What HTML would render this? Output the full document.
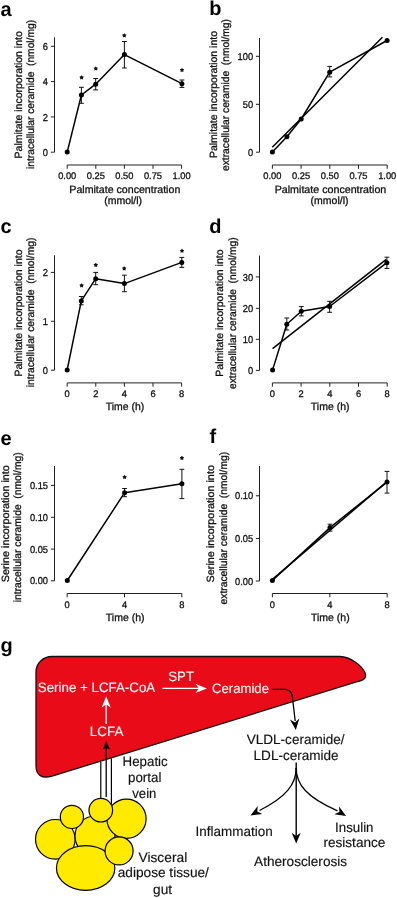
<!DOCTYPE html>
<html><head><meta charset="utf-8"><style>
html,body{margin:0;padding:0;background:#fff;width:397px;height:898px;overflow:hidden}
svg{display:block;will-change:transform;filter:blur(0.3px)}
text{font-family:"Liberation Sans", sans-serif;fill:#111;stroke:#111;stroke-width:0.3px;text-rendering:geometricPrecision}
.gw{stroke:#fff;stroke-width:0.1px}
.tk{font-size:10.0px}
.tkx{font-size:9.6px}
.ti{font-size:10.5px}
.st{font-size:10px}
.pl{font-size:20px;font-weight:bold;fill:#000;stroke:none}
.gw{font-size:13.6px;fill:#fff}
.gb{font-size:13.6px;fill:#111;stroke-width:0.15px}
.ax{stroke:#222;stroke-width:1.0;fill:none}
.dl{stroke:#000;stroke-width:1.5;fill:none;stroke-linejoin:round}
.eb{stroke:#111;stroke-width:1;fill:none}
.dt{fill:#000}
</style></head><body>
<svg width="397" height="898" viewBox="0 0 397 898">
<text x="0.4" y="15.5" class="pl">a</text>
<line x1="54.5" y1="37.3" x2="54.5" y2="152.2" class="ax"/>
<line x1="50.9" y1="152.2" x2="54.5" y2="152.2" class="ax"/>
<text x="48" y="155.8" class="tk" text-anchor="end" textLength="5.17" lengthAdjust="spacingAndGlyphs">0</text>
<line x1="50.9" y1="116.9" x2="54.5" y2="116.9" class="ax"/>
<text x="48" y="120.5" class="tk" text-anchor="end" textLength="5.17" lengthAdjust="spacingAndGlyphs">2</text>
<line x1="50.9" y1="81.6" x2="54.5" y2="81.6" class="ax"/>
<text x="48" y="85.2" class="tk" text-anchor="end" textLength="5.17" lengthAdjust="spacingAndGlyphs">4</text>
<line x1="50.9" y1="46.3" x2="54.5" y2="46.3" class="ax"/>
<text x="48" y="49.9" class="tk" text-anchor="end" textLength="5.17" lengthAdjust="spacingAndGlyphs">6</text>
<line x1="67.2" y1="165" x2="181.6" y2="165" class="ax"/>
<line x1="67.2" y1="165" x2="67.2" y2="168.8" class="ax"/>
<text x="67.2" y="179.3" class="tkx" text-anchor="middle" textLength="18.12" lengthAdjust="spacingAndGlyphs">0.00</text>
<line x1="95.8" y1="165" x2="95.8" y2="168.8" class="ax"/>
<text x="95.8" y="179.3" class="tkx" text-anchor="middle" textLength="18.12" lengthAdjust="spacingAndGlyphs">0.25</text>
<line x1="124.4" y1="165" x2="124.4" y2="168.8" class="ax"/>
<text x="124.4" y="179.3" class="tkx" text-anchor="middle" textLength="18.12" lengthAdjust="spacingAndGlyphs">0.50</text>
<line x1="153" y1="165" x2="153" y2="168.8" class="ax"/>
<text x="153" y="179.3" class="tkx" text-anchor="middle" textLength="18.12" lengthAdjust="spacingAndGlyphs">0.75</text>
<line x1="181.6" y1="165" x2="181.6" y2="168.8" class="ax"/>
<text x="181.6" y="179.3" class="tkx" text-anchor="middle" textLength="18.12" lengthAdjust="spacingAndGlyphs">1.00</text>
<text x="124.8" y="192.6" class="ti" text-anchor="middle" textLength="111" lengthAdjust="spacingAndGlyphs">Palmitate concentration</text>
<text x="123.15" y="203.9" class="ti" text-anchor="middle" textLength="37.9" lengthAdjust="spacingAndGlyphs">(mmol/l)</text>
<text transform="translate(21.75,94.8) rotate(-90)" class="ti" text-anchor="middle" textLength="127.2" lengthAdjust="spacingAndGlyphs">Palmitate incorporation into</text>
<text transform="translate(34.25,94.45) rotate(-90)" class="ti" text-anchor="middle" xml:space="preserve" textLength="149.1" lengthAdjust="spacingAndGlyphs">intracellular ceramide  (nmol/mg)</text>
<polyline points="67.2,152.1 81.4,95 95.7,84.2 124.4,54.6 181.9,83.7" class="dl"/>
<line x1="81.4" y1="87.3" x2="81.4" y2="103.3" class="eb"/>
<line x1="79" y1="87.3" x2="83.8" y2="87.3" class="eb"/>
<line x1="79" y1="103.3" x2="83.8" y2="103.3" class="eb"/>
<line x1="95.7" y1="78.5" x2="95.7" y2="89.9" class="eb"/>
<line x1="93.3" y1="78.5" x2="98.1" y2="78.5" class="eb"/>
<line x1="93.3" y1="89.9" x2="98.1" y2="89.9" class="eb"/>
<line x1="124.4" y1="41.5" x2="124.4" y2="68" class="eb"/>
<line x1="122" y1="41.5" x2="126.8" y2="41.5" class="eb"/>
<line x1="122" y1="68" x2="126.8" y2="68" class="eb"/>
<line x1="181.9" y1="80" x2="181.9" y2="87.4" class="eb"/>
<line x1="179.5" y1="80" x2="184.3" y2="80" class="eb"/>
<line x1="179.5" y1="87.4" x2="184.3" y2="87.4" class="eb"/>
<circle cx="67.2" cy="152.1" r="2.5" class="dt"/>
<circle cx="81.4" cy="95" r="2.5" class="dt"/>
<circle cx="95.7" cy="84.2" r="2.5" class="dt"/>
<circle cx="124.4" cy="54.6" r="2.5" class="dt"/>
<circle cx="181.9" cy="83.7" r="2.5" class="dt"/>
<polygon points="81.60,75.15 82.42,76.37 83.83,76.77 82.93,77.93 82.98,79.40 81.60,78.90 80.22,79.40 80.27,77.93 79.37,76.77 80.78,76.37" fill="#111"/>
<polygon points="95.80,66.25 96.62,67.47 98.03,67.87 97.13,69.03 97.18,70.50 95.80,70.00 94.42,70.50 94.47,69.03 93.57,67.87 94.98,67.47" fill="#111"/>
<polygon points="124.30,33.15 125.12,34.37 126.53,34.77 125.63,35.93 125.68,37.40 124.30,36.90 122.92,37.40 122.97,35.93 122.07,34.77 123.48,34.37" fill="#111"/>
<polygon points="182.00,67.75 182.82,68.97 184.23,69.37 183.33,70.53 183.38,72.00 182.00,71.50 180.62,72.00 180.67,70.53 179.77,69.37 181.18,68.97" fill="#111"/>
<text x="209.2" y="15.2" class="pl">b</text>
<line x1="259.5" y1="38" x2="259.5" y2="152.2" class="ax"/>
<line x1="255.9" y1="152.2" x2="259.5" y2="152.2" class="ax"/>
<text x="253.1" y="155.8" class="tk" text-anchor="end" textLength="5.17" lengthAdjust="spacingAndGlyphs">0</text>
<line x1="255.9" y1="104.3" x2="259.5" y2="104.3" class="ax"/>
<text x="253.1" y="107.9" class="tk" text-anchor="end" textLength="10.34" lengthAdjust="spacingAndGlyphs">50</text>
<line x1="255.9" y1="56.3" x2="259.5" y2="56.3" class="ax"/>
<text x="253.1" y="59.9" class="tk" text-anchor="end" textLength="15.52" lengthAdjust="spacingAndGlyphs">100</text>
<line x1="272.4" y1="165" x2="387.2" y2="165" class="ax"/>
<line x1="272.4" y1="165" x2="272.4" y2="168.8" class="ax"/>
<text x="272.4" y="179.3" class="tkx" text-anchor="middle" textLength="18.12" lengthAdjust="spacingAndGlyphs">0.00</text>
<line x1="301.1" y1="165" x2="301.1" y2="168.8" class="ax"/>
<text x="301.1" y="179.3" class="tkx" text-anchor="middle" textLength="18.12" lengthAdjust="spacingAndGlyphs">0.25</text>
<line x1="329.8" y1="165" x2="329.8" y2="168.8" class="ax"/>
<text x="329.8" y="179.3" class="tkx" text-anchor="middle" textLength="18.12" lengthAdjust="spacingAndGlyphs">0.50</text>
<line x1="358.5" y1="165" x2="358.5" y2="168.8" class="ax"/>
<text x="358.5" y="179.3" class="tkx" text-anchor="middle" textLength="18.12" lengthAdjust="spacingAndGlyphs">0.75</text>
<line x1="387.2" y1="165" x2="387.2" y2="168.8" class="ax"/>
<text x="387.2" y="179.3" class="tkx" text-anchor="middle" textLength="18.12" lengthAdjust="spacingAndGlyphs">1.00</text>
<text x="330.5" y="192.5" class="ti" text-anchor="middle" textLength="111.6" lengthAdjust="spacingAndGlyphs">Palmitate concentration</text>
<text x="329.55" y="204.1" class="ti" text-anchor="middle" textLength="37.9" lengthAdjust="spacingAndGlyphs">(mmol/l)</text>
<text transform="translate(217.35,94.55) rotate(-90)" class="ti" text-anchor="middle" textLength="127.1" lengthAdjust="spacingAndGlyphs">Palmitate incorporation into</text>
<text transform="translate(228.95,95.05) rotate(-90)" class="ti" text-anchor="middle" xml:space="preserve" textLength="151.9" lengthAdjust="spacingAndGlyphs">extracellular ceramide  (nmol/mg)</text>
<line x1="272.3" y1="147.2" x2="382.4" y2="37.2" class="dl"/>
<polyline points="272.4,152 286.9,136.7 301.2,119 329.7,72.2 387.1,40.5" class="dl"/>
<line x1="329.7" y1="66.4" x2="329.7" y2="76.9" class="eb"/>
<line x1="327.3" y1="66.4" x2="332.1" y2="66.4" class="eb"/>
<line x1="327.3" y1="76.9" x2="332.1" y2="76.9" class="eb"/>
<circle cx="272.4" cy="152" r="2.5" class="dt"/>
<circle cx="286.9" cy="136.7" r="2.5" class="dt"/>
<circle cx="301.2" cy="119" r="2.5" class="dt"/>
<circle cx="329.7" cy="72.2" r="2.5" class="dt"/>
<circle cx="387.1" cy="40.5" r="2.5" class="dt"/>
<text x="0.4" y="232.6" class="pl">c</text>
<line x1="54.5" y1="255.3" x2="54.5" y2="370.2" class="ax"/>
<line x1="50.9" y1="370.2" x2="54.5" y2="370.2" class="ax"/>
<text x="48" y="373.8" class="tk" text-anchor="end" textLength="5.17" lengthAdjust="spacingAndGlyphs">0</text>
<line x1="50.9" y1="321.3" x2="54.5" y2="321.3" class="ax"/>
<text x="48" y="324.9" class="tk" text-anchor="end" textLength="5.17" lengthAdjust="spacingAndGlyphs">1</text>
<line x1="50.9" y1="272.4" x2="54.5" y2="272.4" class="ax"/>
<text x="48" y="276" class="tk" text-anchor="end" textLength="5.17" lengthAdjust="spacingAndGlyphs">2</text>
<line x1="67.2" y1="382.9" x2="181.6" y2="382.9" class="ax"/>
<line x1="67.2" y1="382.9" x2="67.2" y2="386.7" class="ax"/>
<text x="67.2" y="397.3" class="tkx" text-anchor="middle" textLength="5.18" lengthAdjust="spacingAndGlyphs">0</text>
<line x1="95.8" y1="382.9" x2="95.8" y2="386.7" class="ax"/>
<text x="95.8" y="397.3" class="tkx" text-anchor="middle" textLength="5.18" lengthAdjust="spacingAndGlyphs">2</text>
<line x1="124.4" y1="382.9" x2="124.4" y2="386.7" class="ax"/>
<text x="124.4" y="397.3" class="tkx" text-anchor="middle" textLength="5.18" lengthAdjust="spacingAndGlyphs">4</text>
<line x1="153" y1="382.9" x2="153" y2="386.7" class="ax"/>
<text x="153" y="397.3" class="tkx" text-anchor="middle" textLength="5.18" lengthAdjust="spacingAndGlyphs">6</text>
<line x1="181.6" y1="382.9" x2="181.6" y2="386.7" class="ax"/>
<text x="181.6" y="397.3" class="tkx" text-anchor="middle" textLength="5.18" lengthAdjust="spacingAndGlyphs">8</text>
<text x="125.05" y="410.2" class="ti" text-anchor="middle" textLength="38.5" lengthAdjust="spacingAndGlyphs">Time (h)</text>
<text transform="translate(21.75,313.05) rotate(-90)" class="ti" text-anchor="middle" textLength="127.1" lengthAdjust="spacingAndGlyphs">Palmitate incorporation into</text>
<text transform="translate(34.25,312.45) rotate(-90)" class="ti" text-anchor="middle" xml:space="preserve" textLength="149.7" lengthAdjust="spacingAndGlyphs">intracellular ceramide  (nmol/mg)</text>
<polyline points="67.2,369.9 81.3,300.9 95.7,278.7 124.4,283.6 181.8,262.4" class="dl"/>
<line x1="81.3" y1="296.5" x2="81.3" y2="304.8" class="eb"/>
<line x1="78.9" y1="296.5" x2="83.7" y2="296.5" class="eb"/>
<line x1="78.9" y1="304.8" x2="83.7" y2="304.8" class="eb"/>
<line x1="95.7" y1="272.4" x2="95.7" y2="284.7" class="eb"/>
<line x1="93.3" y1="272.4" x2="98.1" y2="272.4" class="eb"/>
<line x1="93.3" y1="284.7" x2="98.1" y2="284.7" class="eb"/>
<line x1="124.4" y1="275.2" x2="124.4" y2="291.7" class="eb"/>
<line x1="122" y1="275.2" x2="126.8" y2="275.2" class="eb"/>
<line x1="122" y1="291.7" x2="126.8" y2="291.7" class="eb"/>
<line x1="181.8" y1="257.4" x2="181.8" y2="267.4" class="eb"/>
<line x1="179.4" y1="257.4" x2="184.2" y2="257.4" class="eb"/>
<line x1="179.4" y1="267.4" x2="184.2" y2="267.4" class="eb"/>
<circle cx="67.2" cy="369.9" r="2.5" class="dt"/>
<circle cx="81.3" cy="300.9" r="2.5" class="dt"/>
<circle cx="95.7" cy="278.7" r="2.5" class="dt"/>
<circle cx="124.4" cy="283.6" r="2.5" class="dt"/>
<circle cx="181.8" cy="262.4" r="2.5" class="dt"/>
<polygon points="81.60,283.15 82.42,284.37 83.83,284.77 82.93,285.93 82.98,287.40 81.60,286.90 80.22,287.40 80.27,285.93 79.37,284.77 80.78,284.37" fill="#111"/>
<polygon points="95.80,262.65 96.62,263.87 98.03,264.27 97.13,265.43 97.18,266.90 95.80,266.40 94.42,266.90 94.47,265.43 93.57,264.27 94.98,263.87" fill="#111"/>
<polygon points="124.20,266.15 125.02,267.37 126.43,267.77 125.53,268.93 125.58,270.40 124.20,269.90 122.82,270.40 122.87,268.93 121.97,267.77 123.38,267.37" fill="#111"/>
<polygon points="182.00,248.55 182.82,249.77 184.23,250.17 183.33,251.33 183.38,252.80 182.00,252.30 180.62,252.80 180.67,251.33 179.77,250.17 181.18,249.77" fill="#111"/>
<text x="209.2" y="233.1" class="pl">d</text>
<line x1="259.5" y1="255.5" x2="259.5" y2="370.4" class="ax"/>
<line x1="255.9" y1="370.4" x2="259.5" y2="370.4" class="ax"/>
<text x="253.1" y="374" class="tk" text-anchor="end" textLength="5.17" lengthAdjust="spacingAndGlyphs">0</text>
<line x1="255.9" y1="339.3" x2="259.5" y2="339.3" class="ax"/>
<text x="253.1" y="342.9" class="tk" text-anchor="end" textLength="10.34" lengthAdjust="spacingAndGlyphs">10</text>
<line x1="255.9" y1="308.35" x2="259.5" y2="308.35" class="ax"/>
<text x="253.1" y="311.95" class="tk" text-anchor="end" textLength="10.34" lengthAdjust="spacingAndGlyphs">20</text>
<line x1="255.9" y1="276.9" x2="259.5" y2="276.9" class="ax"/>
<text x="253.1" y="280.5" class="tk" text-anchor="end" textLength="10.34" lengthAdjust="spacingAndGlyphs">30</text>
<line x1="272.4" y1="382.9" x2="387.2" y2="382.9" class="ax"/>
<line x1="272.4" y1="382.9" x2="272.4" y2="386.7" class="ax"/>
<text x="272.4" y="397.3" class="tkx" text-anchor="middle" textLength="5.18" lengthAdjust="spacingAndGlyphs">0</text>
<line x1="301.1" y1="382.9" x2="301.1" y2="386.7" class="ax"/>
<text x="301.1" y="397.3" class="tkx" text-anchor="middle" textLength="5.18" lengthAdjust="spacingAndGlyphs">2</text>
<line x1="329.8" y1="382.9" x2="329.8" y2="386.7" class="ax"/>
<text x="329.8" y="397.3" class="tkx" text-anchor="middle" textLength="5.18" lengthAdjust="spacingAndGlyphs">4</text>
<line x1="358.5" y1="382.9" x2="358.5" y2="386.7" class="ax"/>
<text x="358.5" y="397.3" class="tkx" text-anchor="middle" textLength="5.18" lengthAdjust="spacingAndGlyphs">6</text>
<line x1="387.2" y1="382.9" x2="387.2" y2="386.7" class="ax"/>
<text x="387.2" y="397.3" class="tkx" text-anchor="middle" textLength="5.18" lengthAdjust="spacingAndGlyphs">8</text>
<text x="330.15" y="410.2" class="ti" text-anchor="middle" textLength="38.7" lengthAdjust="spacingAndGlyphs">Time (h)</text>
<text transform="translate(223.3,313.1) rotate(-90)" class="ti" text-anchor="middle" textLength="127.2" lengthAdjust="spacingAndGlyphs">Palmitate incorporation into</text>
<text transform="translate(235.8,313.2) rotate(-90)" class="ti" text-anchor="middle" xml:space="preserve" textLength="151.6" lengthAdjust="spacingAndGlyphs">extracellular ceramide  (nmol/mg)</text>
<line x1="272.6" y1="348.6" x2="386.3" y2="259.4" class="dl"/>
<polyline points="272.6,369.9 286.8,324.2 301.3,311.2 329.6,306.5 386.9,262.7" class="dl"/>
<line x1="286.8" y1="318" x2="286.8" y2="330" class="eb"/>
<line x1="284.4" y1="318" x2="289.2" y2="318" class="eb"/>
<line x1="284.4" y1="330" x2="289.2" y2="330" class="eb"/>
<line x1="301.3" y1="306.6" x2="301.3" y2="315.9" class="eb"/>
<line x1="298.9" y1="306.6" x2="303.7" y2="306.6" class="eb"/>
<line x1="298.9" y1="315.9" x2="303.7" y2="315.9" class="eb"/>
<line x1="329.6" y1="301.3" x2="329.6" y2="312.3" class="eb"/>
<line x1="327.2" y1="301.3" x2="332" y2="301.3" class="eb"/>
<line x1="327.2" y1="312.3" x2="332" y2="312.3" class="eb"/>
<line x1="386.9" y1="257.2" x2="386.9" y2="268.4" class="eb"/>
<line x1="384.5" y1="257.2" x2="389.3" y2="257.2" class="eb"/>
<line x1="384.5" y1="268.4" x2="389.3" y2="268.4" class="eb"/>
<circle cx="272.6" cy="369.9" r="2.5" class="dt"/>
<circle cx="286.8" cy="324.2" r="2.5" class="dt"/>
<circle cx="301.3" cy="311.2" r="2.5" class="dt"/>
<circle cx="329.6" cy="306.5" r="2.5" class="dt"/>
<circle cx="386.9" cy="262.7" r="2.5" class="dt"/>
<text x="0.4" y="444.6" class="pl">e</text>
<line x1="54.5" y1="466" x2="54.5" y2="580.8" class="ax"/>
<line x1="50.9" y1="580.8" x2="54.5" y2="580.8" class="ax"/>
<text x="48" y="584.4" class="tk" text-anchor="end" textLength="18.10" lengthAdjust="spacingAndGlyphs">0.00</text>
<line x1="50.9" y1="549.1" x2="54.5" y2="549.1" class="ax"/>
<text x="48" y="552.7" class="tk" text-anchor="end" textLength="18.10" lengthAdjust="spacingAndGlyphs">0.05</text>
<line x1="50.9" y1="517.3" x2="54.5" y2="517.3" class="ax"/>
<text x="48" y="520.9" class="tk" text-anchor="end" textLength="18.10" lengthAdjust="spacingAndGlyphs">0.10</text>
<line x1="50.9" y1="485.4" x2="54.5" y2="485.4" class="ax"/>
<text x="48" y="489" class="tk" text-anchor="end" textLength="18.10" lengthAdjust="spacingAndGlyphs">0.15</text>
<line x1="67.2" y1="593.5" x2="181.8" y2="593.5" class="ax"/>
<line x1="67.2" y1="593.5" x2="67.2" y2="597.3" class="ax"/>
<text x="67.2" y="607.5" class="tkx" text-anchor="middle" textLength="5.18" lengthAdjust="spacingAndGlyphs">0</text>
<line x1="124.5" y1="593.5" x2="124.5" y2="597.3" class="ax"/>
<text x="124.5" y="607.5" class="tkx" text-anchor="middle" textLength="5.18" lengthAdjust="spacingAndGlyphs">4</text>
<line x1="181.8" y1="593.5" x2="181.8" y2="597.3" class="ax"/>
<text x="181.8" y="607.5" class="tkx" text-anchor="middle" textLength="5.18" lengthAdjust="spacingAndGlyphs">8</text>
<text x="125.15" y="620.7" class="ti" text-anchor="middle" textLength="38.7" lengthAdjust="spacingAndGlyphs">Time (h)</text>
<text transform="translate(8.9,523.7) rotate(-90)" class="ti" text-anchor="middle" textLength="117.0" lengthAdjust="spacingAndGlyphs">Serine incorporation into</text>
<text transform="translate(21.1,527.3) rotate(-90)" class="ti" text-anchor="middle" xml:space="preserve" textLength="150.0" lengthAdjust="spacingAndGlyphs">intracellular ceramide  (nmol/mg)</text>
<polyline points="67.3,580.5 124.6,492.7 181.9,483.8" class="dl"/>
<line x1="124.6" y1="488.5" x2="124.6" y2="496.7" class="eb"/>
<line x1="122.2" y1="488.5" x2="127" y2="488.5" class="eb"/>
<line x1="122.2" y1="496.7" x2="127" y2="496.7" class="eb"/>
<line x1="181.9" y1="469.3" x2="181.9" y2="498.6" class="eb"/>
<line x1="179.5" y1="469.3" x2="184.3" y2="469.3" class="eb"/>
<line x1="179.5" y1="498.6" x2="184.3" y2="498.6" class="eb"/>
<circle cx="67.3" cy="580.5" r="2.5" class="dt"/>
<circle cx="124.6" cy="492.7" r="2.5" class="dt"/>
<circle cx="181.9" cy="483.8" r="2.5" class="dt"/>
<polygon points="124.60,474.85 125.42,476.07 126.83,476.47 125.93,477.63 125.98,479.10 124.60,478.60 123.22,479.10 123.27,477.63 122.37,476.47 123.78,476.07" fill="#111"/>
<polygon points="181.90,455.65 182.72,456.87 184.13,457.27 183.23,458.43 183.28,459.90 181.90,459.40 180.52,459.90 180.57,458.43 179.67,457.27 181.08,456.87" fill="#111"/>
<text x="209.4" y="443" class="pl">f</text>
<line x1="259.5" y1="466" x2="259.5" y2="581" class="ax"/>
<line x1="255.9" y1="581" x2="259.5" y2="581" class="ax"/>
<text x="253.1" y="584.6" class="tk" text-anchor="end" textLength="18.10" lengthAdjust="spacingAndGlyphs">0.00</text>
<line x1="255.9" y1="538.5" x2="259.5" y2="538.5" class="ax"/>
<text x="253.1" y="542.1" class="tk" text-anchor="end" textLength="18.10" lengthAdjust="spacingAndGlyphs">0.05</text>
<line x1="255.9" y1="495.8" x2="259.5" y2="495.8" class="ax"/>
<text x="253.1" y="499.4" class="tk" text-anchor="end" textLength="18.10" lengthAdjust="spacingAndGlyphs">0.10</text>
<line x1="272.4" y1="593.5" x2="387.2" y2="593.5" class="ax"/>
<line x1="272.4" y1="593.5" x2="272.4" y2="597.3" class="ax"/>
<text x="272.4" y="607.5" class="tkx" text-anchor="middle" textLength="5.18" lengthAdjust="spacingAndGlyphs">0</text>
<line x1="329.8" y1="593.5" x2="329.8" y2="597.3" class="ax"/>
<text x="329.8" y="607.5" class="tkx" text-anchor="middle" textLength="5.18" lengthAdjust="spacingAndGlyphs">4</text>
<line x1="387.2" y1="593.5" x2="387.2" y2="597.3" class="ax"/>
<text x="387.2" y="607.5" class="tkx" text-anchor="middle" textLength="5.18" lengthAdjust="spacingAndGlyphs">8</text>
<text x="330.35" y="620.9" class="ti" text-anchor="middle" textLength="38.7" lengthAdjust="spacingAndGlyphs">Time (h)</text>
<text transform="translate(214.35,523.75) rotate(-90)" class="ti" text-anchor="middle" textLength="117.3" lengthAdjust="spacingAndGlyphs">Serine incorporation into</text>
<text transform="translate(226.85,528.15) rotate(-90)" class="ti" text-anchor="middle" xml:space="preserve" textLength="152.5" lengthAdjust="spacingAndGlyphs">extracellular ceramide  (nmol/mg)</text>
<line x1="272.4" y1="579.4" x2="387.0" y2="481.6" class="dl"/>
<polyline points="272.4,580.4 330,527.6 387,482.1" class="dl"/>
<line x1="330" y1="524.2" x2="330" y2="531.1" class="eb"/>
<line x1="327.6" y1="524.2" x2="332.4" y2="524.2" class="eb"/>
<line x1="327.6" y1="531.1" x2="332.4" y2="531.1" class="eb"/>
<line x1="387" y1="471.4" x2="387" y2="493.1" class="eb"/>
<line x1="384.6" y1="471.4" x2="389.4" y2="471.4" class="eb"/>
<line x1="384.6" y1="493.1" x2="389.4" y2="493.1" class="eb"/>
<circle cx="272.4" cy="580.4" r="2.5" class="dt"/>
<circle cx="330" cy="527.6" r="2.5" class="dt"/>
<circle cx="387" cy="482.1" r="2.5" class="dt"/>
<text x="0.4" y="652.3" class="pl">g</text>
<path d="M52,656.5 L340,656.5 C350,657 362,665 365.3,673.5 C366.6,678 363.5,680.3 358,681.5 L52,776.2 C42,779.3 36,775 36,766 L36,672 C36,663.2 43.2,656.5 52,656.5 Z" fill="#e90c18" stroke="#111" stroke-width="1.3"/>
<text x="96.5" y="692.4" class="gw" text-anchor="middle" textLength="117.4" lengthAdjust="spacingAndGlyphs">Serine + LCFA-CoA</text>
<text x="181.15" y="680.7" class="gw" text-anchor="middle" textLength="25.7" lengthAdjust="spacingAndGlyphs">SPT</text>
<text x="240.5" y="692.6" class="gw" text-anchor="middle" textLength="57" lengthAdjust="spacingAndGlyphs">Ceramide</text>
<text x="106.6" y="736.3" class="gw" text-anchor="middle" textLength="33.6" lengthAdjust="spacingAndGlyphs">LCFA</text>
<line x1="162.4" y1="688.4" x2="199" y2="688.4" stroke="#fff" stroke-width="1.3"/>
<path transform="translate(206.9,688.4) rotate(0)" d="M0,0 L-11.5,-4.6 L-7.9,0 L-11.5,4.6 Z" fill="#fff"/>
<line x1="106.2" y1="724" x2="106.2" y2="704" stroke="#fff" stroke-width="1.3"/>
<path transform="translate(106.2,696.3) rotate(-90)" d="M0,0 L-11.5,-4.6 L-7.9,0 L-11.5,4.6 Z" fill="#fff"/>
<line x1="100.8" y1="762" x2="100.8" y2="799" stroke="#000" stroke-width="1.2"/>
<line x1="111.4" y1="758.5" x2="111.4" y2="806" stroke="#000" stroke-width="1.2"/>
<line x1="106.2" y1="797" x2="106.2" y2="746" stroke="#000" stroke-width="1.3"/>
<path transform="translate(106.3,741) rotate(-90)" d="M0,0 L-8.2,-3.5 L-6.8999999999999995,0 L-8.2,3.5 Z" fill="#000"/>
<circle cx="55.3" cy="839.3" r="19.8" fill="#ffea00" stroke="#000" stroke-width="1.2"/>
<circle cx="95.0" cy="836.0" r="20.0" fill="#ffea00" stroke="#000" stroke-width="1.2"/>
<circle cx="126.5" cy="818.8" r="19.6" fill="#ffea00" stroke="#000" stroke-width="1.2"/>
<circle cx="71.9" cy="816.9" r="11.6" fill="#ffea00" stroke="#000" stroke-width="1.2"/>
<circle cx="100.8" cy="810.2" r="11.8" fill="#ffea00" stroke="#000" stroke-width="1.2"/>
<ellipse cx="85.65" cy="868.0" rx="29.2" ry="22.3" fill="#ffea00" stroke="#000" stroke-width="1.2"/>
<circle cx="119.1" cy="850.9" r="14.0" fill="#ffea00" stroke="#000" stroke-width="1.2"/>
<text x="145.15" y="765.9" class="gb" text-anchor="middle" textLength="45.1" lengthAdjust="spacingAndGlyphs">Hepatic</text>
<text x="144.7" y="782.2" class="gb" text-anchor="middle" textLength="33.4" lengthAdjust="spacingAndGlyphs">portal</text>
<text x="144.35" y="797.7" class="gb" text-anchor="middle" textLength="24.1" lengthAdjust="spacingAndGlyphs">vein</text>
<text x="295.65" y="743.6" class="gb" text-anchor="middle" textLength="97.7" lengthAdjust="spacingAndGlyphs">VLDL-ceramide/</text>
<text x="296.1" y="759.6" class="gb" text-anchor="middle" textLength="85" lengthAdjust="spacingAndGlyphs">LDL-ceramide</text>
<text x="234.15" y="836.1" class="gb" text-anchor="middle" textLength="77.1" lengthAdjust="spacingAndGlyphs">Inflammation</text>
<text x="354.3" y="831.7" class="gb" text-anchor="middle" textLength="38.4" lengthAdjust="spacingAndGlyphs">Insulin</text>
<text x="354.4" y="847.3" class="gb" text-anchor="middle" textLength="62" lengthAdjust="spacingAndGlyphs">resistance</text>
<text x="300.6" y="866" class="gb" text-anchor="middle" textLength="93" lengthAdjust="spacingAndGlyphs">Atherosclerosis</text>
<text x="162.85" y="861.7" class="gb" text-anchor="middle" textLength="48.7" lengthAdjust="spacingAndGlyphs">Visceral</text>
<text x="163.3" y="877.3" class="gb" text-anchor="middle" textLength="91.2" lengthAdjust="spacingAndGlyphs">adipose tissue/</text>
<text x="162.6" y="893.9" class="gb" text-anchor="middle" textLength="19" lengthAdjust="spacingAndGlyphs">gut</text>
<path d="M272.4,689.3 L285,689.4 Q291.6,689.8 292.4,697 L295.2,721" fill="none" stroke="#000" stroke-width="1.3"/>
<path transform="translate(295.8,730) rotate(84)" d="M0,0 L-11,-4.7 L-7.6,0 L-11,4.7 Z" fill="#000"/>
<line x1="296.2" y1="762.5" x2="296.2" y2="836" stroke="#000" stroke-width="1.4"/>
<path transform="translate(296.2,843.6) rotate(90)" d="M0,0 L-10.8,-4.5 L-7.6000000000000005,0 L-10.8,4.5 Z" fill="#000"/>
<path d="M296.2,768 C296.2,784 286.4,797 259.5,810.5" fill="none" stroke="#000" stroke-width="1.3"/>
<path transform="translate(250.5,815.5) rotate(150)" d="M0,0 L-11,-4.6 L-7.8,0 L-11,4.6 Z" fill="#000"/>
<path d="M296.2,768 C296.2,784 306,797 337.5,810.8" fill="none" stroke="#000" stroke-width="1.3"/>
<path transform="translate(346.1,816) rotate(31)" d="M0,0 L-11,-4.6 L-7.8,0 L-11,4.6 Z" fill="#000"/>
</svg>
</body></html>
